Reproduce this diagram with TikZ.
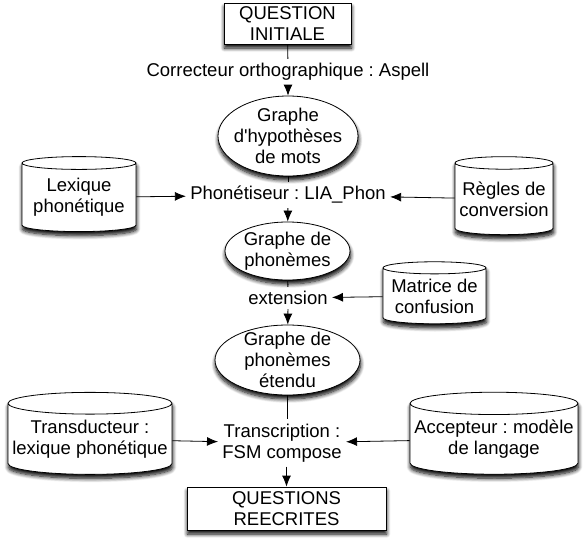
\documentclass[tikz,border=0pt]{standalone}
\usepackage{fontspec}
\setmainfont{Liberation Sans}
\usetikzlibrary{arrows.meta, shapes.geometric, shadows.blur}
\tikzset{x=1pt,y=-1pt, >={Latex[length=11pt,width=9pt]}}
\frenchspacing

\begin{document}
\begin{tikzpicture}
% Style
[
    font=\fontsize{18.5}{21}\selectfont, line width=0.8pt,
    soft shadow/.style={blur shadow={shadow xshift=0.5pt, shadow yshift=-4pt, shadow blur steps=8, shadow blur radius=4pt, shadow opacity=100}},
    question box/.style={rectangle, draw, fill=white, inner sep=0pt, align=center, soft shadow},
    graph node/.style={ellipse, draw, fill=white, inner sep=-12pt, align=center, soft shadow},
    data store/.style={cylinder, shape border rotate=90, aspect=0.14, draw, fill=white, inner sep=0pt, align=center, soft shadow},
    process text/.style={align=center, inner sep=4pt}
]

%=================================== Start ===================================
{
    \useasboundingbox (0,0) rectangle (585,541);

    % Nodes: main chain
    \node[question box, minimum width=127, minimum height=41] (initiale) at (287.5,23.5) {QUESTION\\INITIALE};
    \node[process text] (correcteur) at (288,72) {Correcteur orthographique : Aspell};
    \node[graph node, minimum width=140, minimum height=80] (mots) at (288,136) {Graphe\\d\textquotesingle hypothèses\\de mots};
    \node[process text] (phonetiseur) at (288,195) {Phonétiseur : LIA\_Phon};
    \node[graph node, minimum width=125, minimum height=58] (phonemes) at (287.5,251) {Graphe de\\phonèmes};
    \node[process text] (extension) at (288,298) {extension};
    \node[graph node, minimum width=145, minimum height=70] (etendu) at (287.5,360) {Graphe de\\phonèmes\\étendu};
    \node[process text] (transcription) at (282,443) {Transcription :\\FSM compose};
    \node[question box, minimum width=199, minimum height=43] (reecrites) at (286.5,508.5) {QUESTIONS\\REECRITES};

    % Nodes: resources
    \node[data store, minimum width=114, minimum height=75] (lexique) at (79,197.5) {Lexique\\phonétique};
    \node[data store, minimum width=98, minimum height=78] (regles) at (504,199) {Règles de\\conversion};
    \node[data store, minimum width=103, minimum height=62] (matrice) at (434.5,296) {Matrice de\\confusion};
    \node[data store, minimum width=164, minimum height=82] (transducteur) at (90,439) {Transducteur :\\lexique phonétique};
    \node[data store, minimum width=168, minimum height=82] (accepteur) at (494,439) {Accepteur : modèle\\de langage};

    % Draw: connectors
    \draw (initiale) -- (correcteur);
    \draw[->] (correcteur) -- (mots);
    \draw (mots) -- (phonetiseur);
    \draw[->] (phonetiseur) -- (phonemes);
    \draw (phonemes) -- (extension);
    \draw[->] (extension) -- (etendu);
    \draw (etendu) -- (etendu |- transcription.north);
    \draw[->] (transcription.south -| reecrites) -- (reecrites);

    \draw[->] (lexique) -- (phonetiseur);
    \draw[->] (regles) -- (phonetiseur);
    \draw[->] (matrice) -- (extension);
    \draw[->] (transducteur) -- (transcription);
    \draw[->] (accepteur) -- (transcription);
}
%==================================== END ====================================

\end{tikzpicture}
\end{document}
